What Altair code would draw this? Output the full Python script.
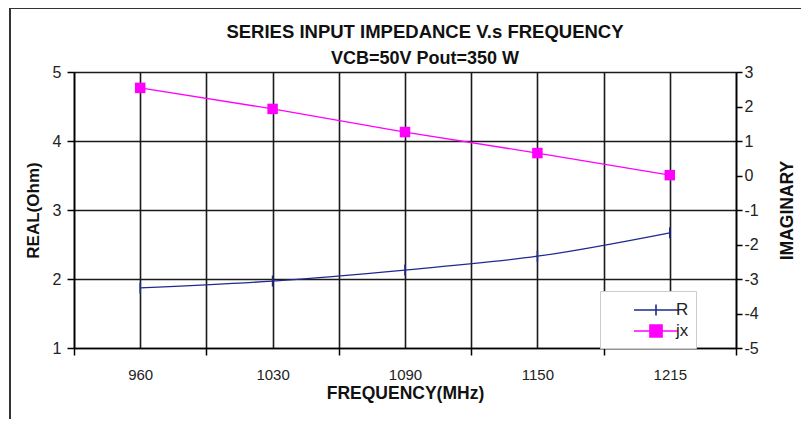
import json
import altair as alt
import pandas as pd

# ---- data ----
freq = ["960", "1030", "1090", "1150", "1215"]
R = [1.87, 1.97, 2.13, 2.33, 2.67]
jx = [2.54, 1.93, 1.26, 0.65, 0.01]
series = ["R", "jx"]
series_colors = ["#1F2A8F", "#FF00FF"]

real_ticks = [1, 2, 3, 4, 5]
imag_ticks = [-5, -4, -3, -2, -1, 0, 1, 2, 3]

df = pd.DataFrame({"idx": list(range(len(freq))), "freq": freq, "R": R, "jx": jx})

n = len(freq)
x_values = [i / 2 - 0.5 for i in range(2 * n + 1)]
label_expr = "datum.value % 1 === 0 ? " + json.dumps(freq) + "[datum.value] : ''"

FONT = "Liberation Sans"
GRID = "#1a1a1a"

x_enc = alt.X(
    "idx:Q",
    scale=alt.Scale(domain=[-0.5, n - 0.5], nice=False, zero=False),
    axis=alt.Axis(
        values=x_values,
        labelExpr=label_expr,
        title="FREQUENCY(MHz)",
        grid=True,
        gridColor=GRID,
        gridWidth=1.6,
        gridOpacity=1,
        tickOpacity={"condition": {"test": "datum.value % 1 !== 0", "value": 1}, "value": 0},
        tickSize=7,
        tickColor="#000",
        tickWidth=1.5,
        domainColor="#000",
        domainWidth=1.6,
        labelPadding=12,
        labelOverlap=False,
        labelBound=False,
        labelFlush=False,
        labelFontSize=15,
        labelColor="#222",
        titleFontSize=17.5,
        titleFontWeight="bold",
        titlePadding=2,
        titleColor="#111",
    ),
)

left_axis = alt.Axis(
    values=real_ticks,
    labelExpr="'' + datum.value",
    labelOverlap=False,
    title="REAL(Ohm)",
    grid=True,
    gridColor=GRID,
    gridWidth=1.6,
    gridOpacity=1,
    tickSize=7,
    tickColor="#000",
    tickWidth=1.5,
    domainColor="#000",
    domainWidth=1.6,
    labelPadding=6,
    labelFontSize=16,
    labelColor="#222",
    titleFontSize=17,
    titleFontWeight="bold",
    titlePadding=10,
    titleColor="#111",
)

right_axis = alt.Axis(
    orient="right",
    values=imag_ticks,
    labelExpr="'' + datum.value",
    labelOverlap=False,
    title="IMAGINARY",
    titleAngle=270,
    grid=False,
    tickSize=6,
    tickColor="#000",
    tickWidth=1.5,
    domainColor="#000",
    domainWidth=1.6,
    labelPadding=2,
    labelFontSize=16,
    labelColor="#222",
    titleFontSize=17.5,
    titleFontWeight="bold",
    titlePadding=38,
    titleColor="#111",
)

y_left = alt.Y("R:Q", scale=alt.Scale(domain=[1, 5], nice=False, zero=False), axis=left_axis)
y_right = alt.Y("jx:Q", scale=alt.Scale(domain=[-5, 3], nice=False, zero=False), axis=right_axis)

base = alt.Chart(df)

# chart frame (outer border, drawn as decoration)
frame_left = base.mark_rule(color="#333", strokeWidth=2).encode(
    x=alt.value(-64), y=alt.value(-64), y2=alt.value(420)
)
frame_top = base.mark_rule(color="#333", strokeWidth=2).encode(
    x=alt.value(-65), x2=alt.value(800), y=alt.value(-64)
)

r_line = base.mark_line(color=series_colors[0], strokeWidth=1.3, interpolate="monotone").encode(
    x=x_enc, y=y_left
)
r_pts = base.mark_point(
    shape="M0,-1L0,1", size=121, filled=False, color=series_colors[0], strokeWidth=1.6, opacity=1
).encode(x=x_enc, y=y_left)

left = alt.layer(r_line, r_pts, frame_left, frame_top)

jx_line = base.mark_line(color=series_colors[1], strokeWidth=1.3).encode(x=x_enc, y=y_right)
jx_pts = base.mark_point(shape="square", size=110, filled=True, color=series_colors[1], opacity=1).encode(
    x=x_enc, y=y_right
)

shape_paths = [
    "M-2,0L2,0M0,-0.5L0,0.5",
    "M-2,0L2,0M-0.55,-0.55L0.55,-0.55L0.55,0.55L-0.55,0.55Z",
]

leg = alt.Legend(
    title=None,
    orient="none",
    legendX=526,
    legendY=219,
    padding=7,
    strokeColor="#cccccc",
    fillColor="#ffffff",
    symbolSize=484,
    symbolOffset=37,
    labelOffset=8,
    labelFontSize=17,
    labelFont=FONT,
    labelColor="#222",
    rowPadding=0,
    symbolOpacity=1,
    symbolStrokeWidth=1.6,
)

legend_layer = (
    base.transform_fold(["R", "jx"], as_=["series", "val"])
    .mark_point(opacity=0)
    .encode(
        fill=alt.Fill("series:N", scale=alt.Scale(domain=series, range=series_colors), legend=leg),
        stroke=alt.Stroke("series:N", scale=alt.Scale(domain=series, range=series_colors), legend=leg),
        shape=alt.Shape("series:N", scale=alt.Scale(domain=series, range=shape_paths), legend=leg),
    )
)

right = alt.layer(jx_line, jx_pts, legend_layer)

chart = (
    alt.layer(left, right)
    .resolve_scale(y="independent")
    .properties(
        width=662,
        height=276,
        autosize=alt.AutoSizeParams(type="none"),
        padding={"left": 66, "top": 64, "right": 65, "bottom": 71},
        title=alt.TitleParams(
            text="SERIES INPUT IMPEDANCE V.s FREQUENCY",
            subtitle="VCB=50V Pout=350 W",
            anchor="middle",
            dx=20,
            offset=-61,
            fontSize=18.5,
            fontWeight="bold",
            font=FONT,
            color="#111",
            subtitleFont=FONT,
            subtitleFontSize=18,
            subtitleFontWeight="bold",
            subtitleColor="#111",
            subtitlePadding=9,
        ),
    )
    .configure(font=FONT, background="white")
    .configure_view(stroke=None)
    .configure_axis(labelFont=FONT, titleFont=FONT)
)

chart.save("out.html", embed_options={"renderer": "svg", "actions": False})
